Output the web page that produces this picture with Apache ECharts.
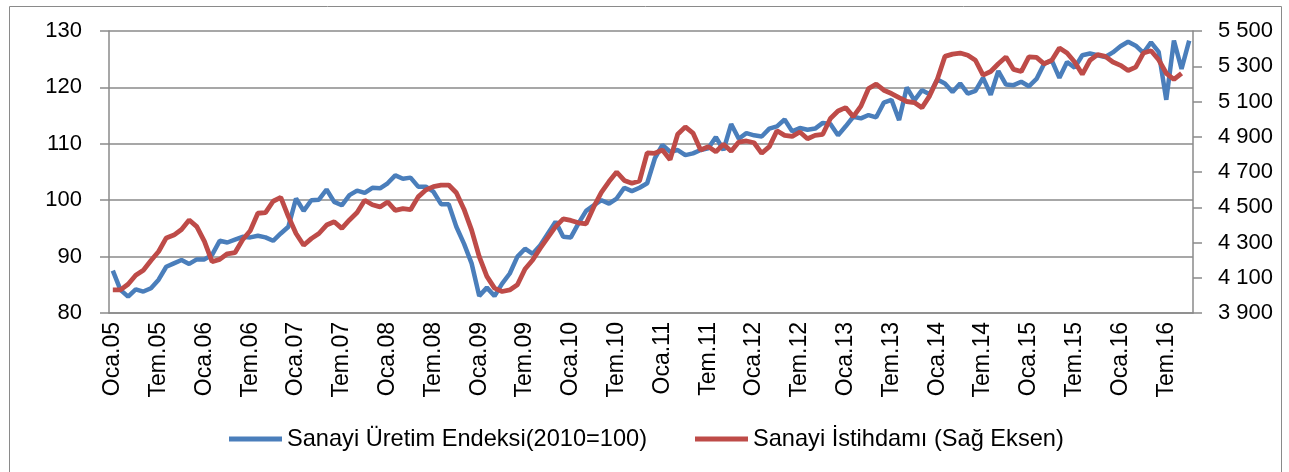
<!DOCTYPE html>
<html>
<head>
<meta charset="utf-8">
<title>Sanayi Üretimi ve İstihdam</title>
<script src="https://cdn.jsdelivr.net/npm/echarts@6/dist/echarts.min.js"></script>
<style>
  html, body { margin: 0; padding: 0; background: #fff; }
  #chart { width: 1289px; height: 472px; }
</style>
</head>
<body>
<div id="chart"></div>
<script>
// ay adları (kategori etiketleri Oca.05 ... Eki.16)
const monthNames = ['Oca', 'Şub', 'Mar', 'Nis', 'May', 'Haz', 'Tem', 'Ağu', 'Eyl', 'Eki', 'Kas', 'Ara'];
const years = ['05', '06', '07', '08', '09', '10', '11', '12', '13', '14', '15', '16'];
const lastMonthIndex = 9; // 2016 Ekim
const categories = [];
years.forEach((y, yi) => {
  monthNames.forEach((m, mi) => {
    if (yi === years.length - 1 && mi > lastMonthIndex) return;
    categories.push(m + '.' + y);
  });
});

// Sanayi Üretim Endeksi (2010=100) - sol eksen
const uretimEndeksi = [
  87.5, 84.1, 82.9, 84.2, 83.8, 84.4, 85.9, 88.2, 88.8, 89.4, 88.7, 89.5,
  89.5, 90.3, 92.8, 92.5, 93.0, 93.5, 93.4, 93.7, 93.4, 92.8, 94.1, 95.3,
  100.3, 98.1, 100.0, 100.1, 101.9, 99.7, 99.1, 100.9, 101.7, 101.3, 102.2, 102.1,
  103.0, 104.4, 103.8, 104.0, 102.4, 102.4, 101.5, 99.3, 99.3, 95.3, 92.3, 88.8,
  83.0, 84.5, 83.0, 85.2, 87.0, 90.0, 91.4, 90.5, 92.0, 94.1, 96.2, 93.5,
  93.4, 95.9, 98.1, 99.1, 100.0, 99.4, 100.3, 102.2, 101.6, 102.2, 103.0, 107.4,
  109.8, 108.6, 108.9, 108.0, 108.3, 108.9, 109.2, 111.2, 108.9, 113.5, 110.9, 111.9,
  111.5, 111.3, 112.7, 113.1, 114.3, 112.2, 112.8, 112.5, 112.7, 113.7, 113.5, 111.5,
  113.1, 114.8, 114.5, 115.1, 114.7, 117.3, 117.8, 114.2, 120.0, 117.7, 119.5, 118.8,
  121.4, 120.7, 119.2, 120.7, 118.9, 119.4, 121.7, 118.7, 122.9, 120.5, 120.4, 121.0,
  120.2, 121.5, 124.2, 124.8, 121.7, 124.5, 123.5, 125.7, 126.0, 125.7, 125.4, 126.2,
  127.3, 128.1, 127.4, 126.1, 128.0, 126.3, 117.8, 128.3, 123.3, 128.3
];

// Sanayi İstihdamı (bin kişi) - sağ eksen
const istihdam = [
  4031, 4031, 4063, 4114, 4143, 4198, 4249, 4326, 4342, 4374, 4428, 4390,
  4306, 4191, 4204, 4236, 4242, 4316, 4367, 4466, 4470, 4534, 4556, 4447,
  4351, 4284, 4322, 4351, 4399, 4418, 4380, 4428, 4470, 4540, 4514, 4502,
  4530, 4482, 4492, 4486, 4559, 4598, 4617, 4626, 4626, 4582, 4489, 4370,
  4220, 4108, 4041, 4022, 4031, 4060, 4150, 4201, 4268, 4329, 4390, 4434,
  4425, 4412, 4406, 4502, 4585, 4646, 4700, 4652, 4636, 4649, 4809, 4806,
  4825, 4770, 4914, 4956, 4921, 4825, 4844, 4815, 4857, 4818, 4870, 4876,
  4866, 4806, 4844, 4934, 4908, 4902, 4927, 4889, 4908, 4914, 5004, 5046,
  5065, 5014, 5074, 5174, 5199, 5164, 5145, 5122, 5100, 5094, 5065, 5132,
  5225, 5356, 5369, 5375, 5362, 5334, 5250, 5270, 5314, 5353, 5282, 5270,
  5353, 5350, 5314, 5334, 5404, 5375, 5324, 5254, 5334, 5366, 5356, 5324,
  5305, 5276, 5295, 5375, 5388, 5337, 5260, 5225, 5260, null
];

const seriesNames = ['Sanayi Üretim Endeksi(2010=100)', 'Sanayi İstihdamı (Sağ Eksen)'];

const fontFamily = '"Liberation Sans", Arial, sans-serif';
const gridColor = '#8a8a8a';

// binlik ayırıcı olarak boşluk: 5500 -> "5 500"
const spaceThousands = v => String(v).replace(/\B(?=(\d{3})+(?!\d))/g, ' ');

let chart = echarts.init(document.getElementById('chart'));
chart.setOption({
  animation: false,
  textStyle: { fontFamily: fontFamily },
  graphic: [
    {
      // dış çerçeve
      type: 'rect',
      shape: { x: 9.5, y: 6.5, width: 1272, height: 470 },
      style: { fill: 'none', stroke: '#8a8a8a', lineWidth: 1 },
      silent: true
    }
  ],
  grid: {
    left: 109,
    right: 96,
    top: 31,
    bottom: 159
  },
  legend: {
    left: 224,
    top: 422,
    icon: 'rect',
    itemWidth: 53,
    itemHeight: 5,
    itemGap: 48,
    textStyle: { fontSize: 23.6, color: '#000', fontFamily: fontFamily },
    data: seriesNames
  },
  xAxis: {
    type: 'category',
    data: categories,
    boundaryGap: true,
    axisLine: { lineStyle: { color: gridColor, width: 1.5 } },
    axisTick: { interval: 5, length: 9, lineStyle: { color: gridColor, width: 1.5 } },
    axisLabel: {
      interval: 5,
      rotate: 90,
      margin: 9,
      fontSize: 23,
      color: '#000',
      fontFamily: fontFamily
    }
  },
  yAxis: [
    {
      type: 'value',
      min: 80,
      max: 130,
      interval: 10,
      axisLine: { show: true, lineStyle: { color: gridColor, width: 1.5 } },
      axisTick: { show: true, length: 9, lineStyle: { color: gridColor, width: 1.5 } },
      axisLabel: { margin: 27, fontSize: 22, color: '#000', fontFamily: fontFamily },
      splitLine: { lineStyle: { color: gridColor, width: 1.5 } }
    },
    {
      type: 'value',
      position: 'right',
      min: 3900,
      max: 5500,
      interval: 200,
      axisLine: { show: true, lineStyle: { color: gridColor, width: 1.5 } },
      axisTick: { show: true, length: 9, lineStyle: { color: gridColor, width: 1.5 } },
      axisLabel: {
        margin: 25,
        fontSize: 22,
        color: '#000',
        fontFamily: fontFamily,
        formatter: spaceThousands
      },
      splitLine: { show: false }
    }
  ],
  series: [
    {
      name: seriesNames[0],
      type: 'line',
      yAxisIndex: 0,
      data: uretimEndeksi,
      symbol: 'none',
      lineStyle: { color: '#4a7ebb', width: 4.5 },
      itemStyle: { color: '#4a7ebb' }
    },
    {
      name: seriesNames[1],
      type: 'line',
      yAxisIndex: 1,
      data: istihdam,
      symbol: 'none',
      lineStyle: { color: '#be4b48', width: 4.8 },
      itemStyle: { color: '#be4b48' }
    }
  ]
});
</script>
</body>
</html>
